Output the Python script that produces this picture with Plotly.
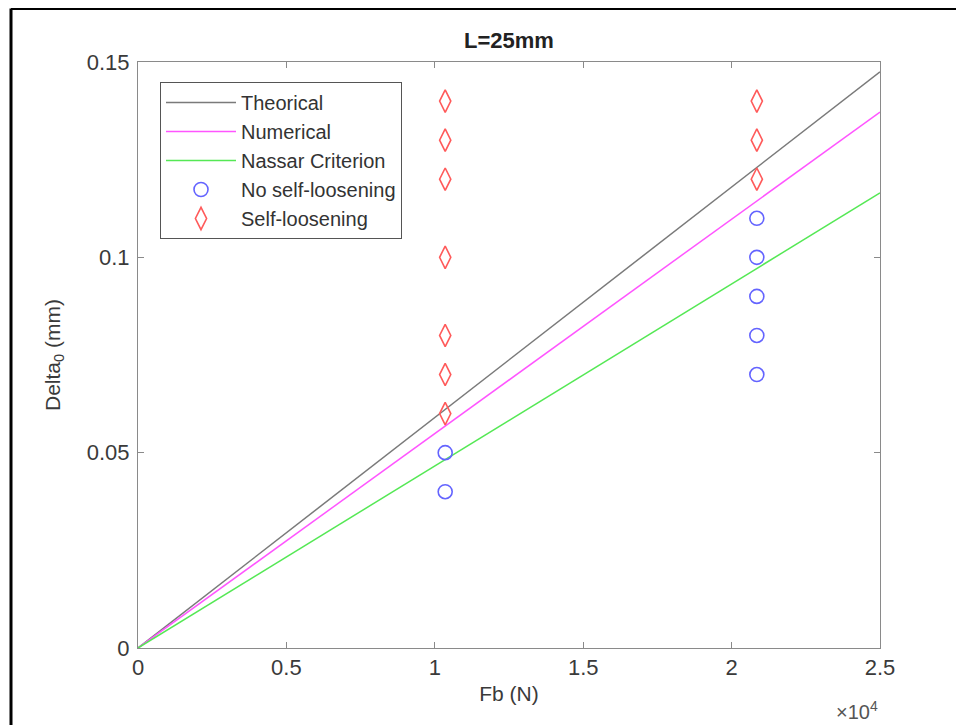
import plotly.graph_objects as go

# ---- data ----
line_x = [0, 25000]
theorical_y = [0, 0.1475]
numerical_y = [0, 0.1372]
nassar_y = [0, 0.1165]

no_loose_x = [10350, 10350, 20850, 20850, 20850, 20850, 20850]
no_loose_y = [0.05, 0.04, 0.11, 0.10, 0.09, 0.08, 0.07]

loose_x = [10350, 10350, 10350, 10350, 10350, 10350, 10350, 20850, 20850, 20850]
loose_y = [0.14, 0.13, 0.12, 0.10, 0.08, 0.07, 0.06, 0.14, 0.13, 0.12]

x_tickvals = [0, 5000, 10000, 15000, 20000, 25000]
x_ticktext = ["0", "0.5", "1", "1.5", "2", "2.5"]
y_tickvals = [0, 0.05, 0.1, 0.15]
y_ticktext = ["0", "0.05", "0.1", "0.15"]

FONT = "Liberation Sans, Arial, sans-serif"
AX = "#8a8a8a"
TXT = "#3a3a3a"

fig = go.Figure()
fig.add_trace(go.Scatter(x=line_x, y=theorical_y, mode="lines", name="Theorical",
                         line=dict(color="#7a7a7a", width=1.5)))
fig.add_trace(go.Scatter(x=line_x, y=numerical_y, mode="lines", name="Numerical",
                         line=dict(color="#ff55ff", width=1.5)))
fig.add_trace(go.Scatter(x=line_x, y=nassar_y, mode="lines", name="Nassar Criterion",
                         line=dict(color="#55e855", width=1.5)))
fig.add_trace(go.Scatter(x=no_loose_x, y=no_loose_y, mode="markers", name="No self-loosening",
                         marker=dict(symbol="circle-open", size=14, color="#6464ff",
                                     line=dict(width=1.6, color="#6464ff"))))
fig.add_trace(go.Scatter(x=loose_x, y=loose_y, mode="markers", name="Self-loosening",
                         marker=dict(symbol="diamond-tall-open", size=16, color="#ff5a5a",
                                     line=dict(width=1.6, color="#ff5a5a"))))

# page has an 8px body margin; figure is sized/positioned to compensate
OFF = 8
W, H = 964 - OFF, 725 - OFF
L, T = 138 - OFF, 62 - OFF
R = W - (880 - OFF)
B = H - (648 - OFF)
pw, ph = W - L - R, H - T - B

def px2x(px):
    return (px - OFF - L) / pw

def py2y(py):
    return (H - B - (py - OFF)) / ph

fig.update_layout(
    width=W, height=H,
    margin=dict(l=L, r=R, t=T, b=B, pad=0),
    paper_bgcolor="white", plot_bgcolor="white",
    font=dict(family=FONT, size=19, color=TXT),
    title=dict(text="<b>L=25mm</b>", x=(509 - OFF) / W, xref="container",
               xanchor="center", y=1 - (40 - OFF) / H, yref="container", yanchor="middle",
               font=dict(family=FONT, size=22, color="#222222")),
    showlegend=True,
    legend=dict(x=px2x(160), y=py2y(82), xanchor="left", yanchor="top",
                bgcolor="white", bordercolor="#555555", borderwidth=1,
                font=dict(family=FONT, size=20, color="#333333"),
                itemwidth=70, tracegroupgap=0),
    xaxis=dict(range=[0, 25000], tickvals=x_tickvals, ticktext=x_ticktext,
               ticks="inside", ticklen=6, tickcolor=AX, showline=True, linecolor=AX,
               linewidth=1, mirror="allticks", showgrid=False, zeroline=False,
               tickfont=dict(size=22, color=TXT),
               title=dict(text="Fb (N)", font=dict(size=21, color=TXT), standoff=6)),
    yaxis=dict(range=[0, 0.15], tickvals=y_tickvals, ticktext=y_ticktext,
               ticks="inside", ticklen=6, tickcolor=AX, showline=True, linecolor=AX,
               linewidth=1, mirror="allticks", showgrid=False, zeroline=False,
               tickfont=dict(size=22, color=TXT), ticklabelstandoff=3,
               title=dict(text="Delta<sub>0</sub> (mm)", font=dict(size=21, color=TXT), standoff=20)),
)

fig.add_annotation(text="×10<sup>4</sup>", x=1.0, xref="paper", xanchor="right",
                   y=py2y(710), yref="paper", yanchor="middle", showarrow=False,
                   font=dict(family=FONT, size=20, color="#555555"))

# outer black frame (cropped at right/bottom)
fig.add_shape(type="line", xref="paper", yref="paper", x0=px2x(11), x1=px2x(980),
              y0=py2y(8.5), y1=py2y(8.5), line=dict(color="black", width=3))
fig.add_shape(type="line", xref="paper", yref="paper", x0=px2x(11), x1=px2x(11),
              y0=py2y(8.5), y1=py2y(740), line=dict(color="black", width=3))

fig.write_html("out.html")
